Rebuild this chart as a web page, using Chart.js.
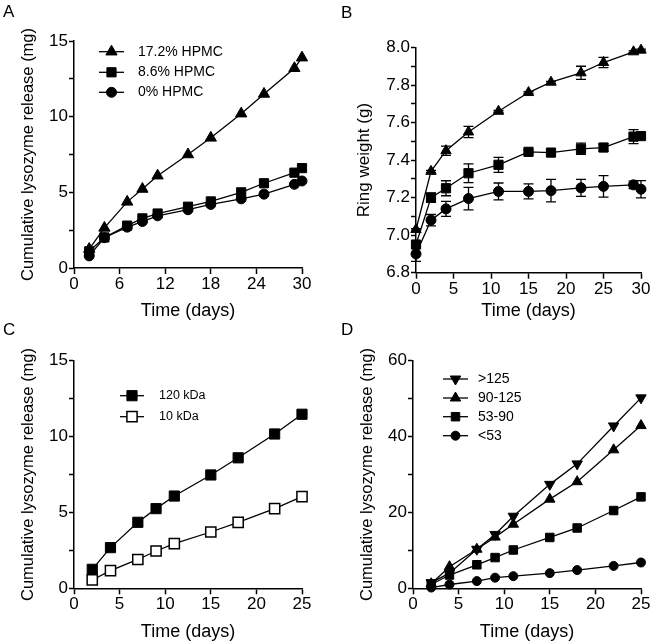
<!DOCTYPE html>
<html>
<head>
<meta charset="utf-8">
<script src="https://cdn.jsdelivr.net/npm/chart.js@4.4.0/dist/chart.umd.min.js"></script>
<style>
  html, body { margin: 0; padding: 0; background: #fff; }
  #wrap { position: relative; width: 652px; height: 644px; font-family: "Liberation Sans", Arial, sans-serif; }
  canvas { position: absolute; }
  .lbl { position: absolute; font-size: 17px; line-height: 17px; color: #000; }
</style>
</head>
<body>
<div id="wrap">
  <canvas id="chartA" width="326" height="322" style="left:0;top:0"></canvas>
  <canvas id="chartB" width="326" height="322" style="left:326px;top:0"></canvas>
  <canvas id="chartC" width="326" height="322" style="left:0;top:322px"></canvas>
  <canvas id="chartD" width="326" height="322" style="left:326px;top:322px"></canvas>
  <div class="lbl" style="left:3px;top:3px">A</div>
  <div class="lbl" style="left:341px;top:4px">B</div>
  <div class="lbl" style="left:3px;top:321px">C</div>
  <div class="lbl" style="left:341px;top:321px">D</div>
</div>
<script>
// Panel A - lysozyme release vs HPMC content
const daysA = [2, 4, 7, 9, 11, 15, 18, 22, 25, 29, 30];
const hpmc172 = [1.25, 2.65, 4.37, 5.22, 6.1, 7.5, 8.6, 10.2, 11.5, 13.2, 13.9];
const hpmc86 = [1.1, 2.02, 2.8, 3.28, 3.6, 4.05, 4.4, 5.0, 5.6, 6.3, 6.6];
const hpmc0 = [0.8, 2.0, 2.7, 3.07, 3.45, 3.85, 4.2, 4.57, 4.88, 5.53, 5.75];

// Panel B - ring weight (mean +/- error)
const daysB = [0, 2, 4, 7, 11, 15, 18, 22, 25, 29, 30];
const ring172 = [7.03, 7.34, 7.45, 7.55, 7.66, 7.76, 7.815, 7.865, 7.92, 7.977, 7.986];
const ring172Err = [0.005, 0.005, 0.025, 0.03, 0.005, 0.005, 0.005, 0.035, 0.027, 0.005, 0.005];
const ring86 = [6.95, 7.2, 7.25, 7.33, 7.375, 7.444, 7.44, 7.46, 7.467, 7.525, 7.528];
const ring86Err = [0.01, 0.025, 0.04, 0.05, 0.04, 0.01, 0.01, 0.03, 0.02, 0.037, 0.01];
const ring0 = [6.9, 7.08, 7.14, 7.195, 7.233, 7.233, 7.237, 7.252, 7.26, 7.268, 7.245];
const ring0Err = [0.04, 0.03, 0.04, 0.06, 0.045, 0.04, 0.06, 0.045, 0.057, 0.02, 0.046];

// Panel C - molecular weight
const daysC = [2, 4, 7, 9, 11, 15, 18, 22, 25];
const kda120 = [1.25, 2.68, 4.35, 5.25, 6.08, 7.47, 8.6, 10.17, 11.47];
const kda10 = [0.55, 1.16, 1.9, 2.46, 2.94, 3.71, 4.35, 5.25, 6.04];

// Panel D - particle size
const daysD = [2, 4, 7, 9, 11, 15, 18, 22, 25];
const size125 = [1.5, 4.0, 10.3, 14.2, 19.0, 27.4, 32.8, 42.8, 50.2];
const size90 = [1.2, 5.7, 10.3, 13.5, 16.9, 23.5, 28.1, 36.5, 42.9];
const size53 = [1.0, 3.5, 6.2, 8.1, 10.1, 13.4, 15.9, 20.5, 24.1];
const size0 = [0.2, 1.0, 1.9, 2.8, 3.2, 4.0, 4.8, 5.9, 6.8];

const FONT = '"Liberation Sans", Arial, sans-serif';

function pts(xs, ys) {
    return xs.map((x, i) => ({ x: x, y: ys[i] }));
}

function serie(label, xs, ys, style, radius, extra) {
    return Object.assign({
        label: label,
        data: pts(xs, ys),
        borderColor: '#000',
        borderWidth: 1.3,
        pointStyle: style,
        pointRadius: radius,
        pointHoverRadius: radius,
        pointBackgroundColor: '#000',
        pointBorderColor: '#000',
        pointBorderWidth: 1,
        tension: 0,
        clip: false
    }, extra || {});
}

// barras de error (solo panel B)
const errorBars = {
    id: 'errorBars',
    beforeDatasetsDraw(chart) {
        const ctx = chart.ctx;
        const xs = chart.scales.x, ys = chart.scales.y;
        chart.data.datasets.forEach(ds => {
            if (!ds.errors) return;
            ctx.save();
            ctx.strokeStyle = '#000';
            ctx.lineWidth = 1.3;
            ds.data.forEach((p, j) => {
                const e = ds.errors[j];
                const x = xs.getPixelForValue(p.x);
                const y1 = ys.getPixelForValue(p.y - e);
                const y2 = ys.getPixelForValue(p.y + e);
                ctx.beginPath();
                ctx.moveTo(x, y1); ctx.lineTo(x, y2);
                ctx.moveTo(x - 5, y1); ctx.lineTo(x + 5, y1);
                ctx.moveTo(x - 5, y2); ctx.lineTo(x + 5, y2);
                ctx.stroke();
            });
            ctx.restore();
        });
    }
};

// leyenda estilo GraphPad: linea + marcador
const lineLegend = {
    id: 'lineLegend',
    afterDatasetsDraw(chart, args, opts) {
        if (!opts || !opts.rows) return;
        const ctx = chart.ctx;
        ctx.save();
        chart.data.datasets.forEach((ds, i) => {
            const y = opts.rows[i];
            ctx.strokeStyle = '#000';
            ctx.lineWidth = 1.3;
            ctx.beginPath();
            ctx.moveTo(opts.x0, y); ctx.lineTo(opts.x1, y);
            ctx.stroke();
            ctx.fillStyle = ds.pointBackgroundColor;
            ctx.strokeStyle = ds.pointBorderColor;
            ctx.lineWidth = ds.pointBorderWidth;
            Chart.helpers.drawPoint(ctx, {
                pointStyle: ds.pointStyle,
                rotation: ds.pointRotation || 0,
                radius: ds.pointRadius,
                borderWidth: ds.pointBorderWidth
            }, (opts.x0 + opts.x1) / 2, y);
            ctx.fillStyle = '#000';
            ctx.font = opts.fontSize + 'px ' + FONT;
            ctx.textBaseline = 'middle';
            ctx.textAlign = 'left';
            ctx.fillText(ds.label, opts.xText, y);
        });
        ctx.restore();
    }
};

function makeChart(id, datasets, cfg) {
    const ctx = document.getElementById(id).getContext('2d');
    return new Chart(ctx, {
        type: 'line',
        data: { datasets: datasets },
        plugins: [errorBars, lineLegend],
        options: {
            responsive: false,
            animation: false,
            events: [],
            layout: { padding: cfg.padding },
            plugins: {
                legend: { display: false },
                tooltip: { enabled: false },
                lineLegend: cfg.legend || {}
            },
            scales: {
                x: {
                    type: 'linear',
                    min: 0,
                    max: cfg.xMax,
                    ticks: {
                        stepSize: cfg.xStep,
                        color: '#000',
                        font: { size: 17, family: FONT },
                        padding: 0,
                        maxRotation: 0,
                        autoSkip: false
                    },
                    grid: { drawOnChartArea: false, drawTicks: true, tickLength: 6, tickColor: '#000', tickWidth: 1.5 },
                    border: { display: true, color: '#000', width: 1.5 },
                    title: {
                        display: true,
                        text: 'Time (days)',
                        color: '#000',
                        font: { size: 18, family: FONT },
                        padding: { top: 0, bottom: cfg.xTitlePad }
                    },
                    afterFit: s => { s.height = cfg.xHeight; }
                },
                y: {
                    type: 'linear',
                    min: cfg.yMin,
                    max: cfg.yMax,
                    ticks: {
                        stepSize: cfg.yMinor,
                        color: '#000',
                        font: { size: 17, family: FONT },
                        padding: 1,
                        autoSkip: false,
                        callback: cfg.yLabel
                    },
                    grid: { drawOnChartArea: false, drawTicks: true, tickLength: 5, tickColor: '#000', tickWidth: 1.5 },
                    border: { display: true, color: '#000', width: 1.5 },
                    title: {
                        display: true,
                        text: cfg.yTitle,
                        color: '#000',
                        font: { size: cfg.yTitleSize, family: FONT },
                        padding: { top: cfg.yTitlePad, bottom: 0 }
                    },
                    afterFit: s => { s.width = cfg.yWidth; }
                }
            }
        }
    });
}

const releaseTitle = 'Cumulative lysozyme release (mg)';

makeChart('chartA', [
    serie('17.2% HPMC', daysA, hpmc172, 'triangle', 6.5),
    serie('8.6% HPMC', daysA, hpmc86, 'rect', 6.5),
    serie('0% HPMC', daysA, hpmc0, 'circle', 5)
], {
    padding: { left: 0, right: 24, top: 41, bottom: 0 },
    xMax: 30, xStep: 6, xHeight: 54, xTitlePad: 0,
    yMin: 0, yMax: 15, yMinor: 2.5,
    yLabel: v => (v % 5 === 0 ? String(v) : ''),
    yTitle: releaseTitle, yTitleSize: 16.5, yTitlePad: 19, yWidth: 74,
    legend: { rows: [51.7, 72.3, 92.3], x0: 99, x1: 124, xText: 138, fontSize: 14 }
});

makeChart('chartB', [
    serie('17.2% HPMC', daysB, ring172, 'triangle', 6, { errors: ring172Err }),
    serie('8.6% HPMC', daysB, ring86, 'rect', 6.5, { errors: ring86Err }),
    serie('0% HPMC', daysB, ring0, 'circle', 5, { errors: ring0Err })
], {
    padding: { left: 0, right: 11, top: 47.5, bottom: 0 },
    xMax: 30, xStep: 5, xHeight: 49.3, xTitlePad: 0,
    yMin: 6.8, yMax: 8.0, yMinor: 0.1,
    yLabel: v => (Math.round(v * 10) % 2 === 0 ? v.toFixed(1) : ''),
    yTitle: 'Ring weight (g)', yTitleSize: 17, yTitlePad: 28, yWidth: 90
});

makeChart('chartC', [
    serie('120 kDa', daysC, kda120, 'rect', 7.2),
    serie('10 kDa', daysC, kda10, 'rect', 7.2, { pointBackgroundColor: '#fff', pointBorderWidth: 1.5 })
], {
    padding: { left: 0, right: 24, top: 38.7, bottom: 0 },
    xMax: 25, xStep: 5, xHeight: 55.7, xTitlePad: 1.5,
    yMin: 0, yMax: 15, yMinor: 2.5,
    yLabel: v => (v % 5 === 0 ? String(v) : ''),
    yTitle: releaseTitle, yTitleSize: 16.5, yTitlePad: 19, yWidth: 74,
    legend: { rows: [73.7, 94.7], x0: 120, x1: 144, xText: 159, fontSize: 12.5 }
});

makeChart('chartD', [
    serie('>125', daysD, size125, 'triangle', 6, { pointRotation: 180 }),
    serie('90-125', daysD, size90, 'triangle', 6),
    serie('53-90', daysD, size53, 'rect', 6),
    serie('<53', daysD, size0, 'circle', 4.5)
], {
    padding: { left: 0, right: 11, top: 38.7, bottom: 0 },
    xMax: 25, xStep: 5, xHeight: 55.7, xTitlePad: 1.5,
    yMin: 0, yMax: 60, yMinor: 10,
    yLabel: v => (v % 20 === 0 ? String(v) : ''),
    yTitle: releaseTitle, yTitleSize: 16.5, yTitlePad: 31.5, yWidth: 87,
    legend: { rows: [57, 76, 94.7, 113.7], x0: 117, x1: 142, xText: 152, fontSize: 14 }
});
</script>
</body>
</html>
